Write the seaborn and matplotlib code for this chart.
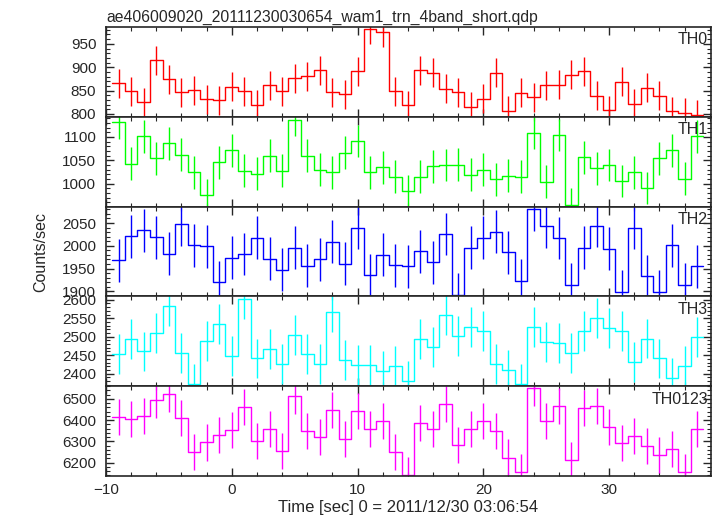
import numpy as np
import matplotlib
matplotlib.use('Agg')
import matplotlib.pyplot as plt
from matplotlib.ticker import MultipleLocator
import seaborn as sns

sns.set_style('ticks')
plt.rcParams['font.family'] = ['Liberation Sans', 'DejaVu Sans']

# bin centres [sec]
time = np.arange(-9, 38)

th0 = [866, 849, 825, 915, 874, 847, 851, 831, 829, 858, 849, 820, 861, 849, 876, 881,
       894, 847, 842, 891, 981, 975, 849, 819, 893, 888, 854, 847, 816, 833, 888, 807,
       845, 836, 861, 862, 884, 891, 839, 808, 869, 822, 856, 839, 806, 803, 798]
th1 = [1131, 1043, 1101, 1054, 1086, 1062, 1024, 975, 1046, 1071, 1028, 1021, 1060, 1028,
       1137, 1060, 1030, 1024, 1066, 1091, 1024, 1035, 1015, 984, 1015, 1037, 1040, 1041,
       1019, 1030, 1009, 1017, 1015, 1109, 1004, 1104, 955, 1056, 1033, 1040, 1006, 1024,
       991, 1054, 1071, 1011, 1101]
th2 = [1968, 2021, 2034, 2019, 1983, 2047, 2001, 1999, 1920, 1974, 1982, 2018, 1972, 1948,
       1996, 1956, 1970, 2009, 1961, 2040, 1935, 1980, 1957, 1955, 1988, 1964, 2026, 1893,
       1996, 2018, 2031, 1986, 1923, 2080, 2043, 2017, 1915, 1996, 2044, 1994, 1899, 2040,
       1933, 1899, 2001, 1915, 1955]
th3 = [2452, 2493, 2460, 2511, 2584, 2455, 2371, 2488, 2534, 2448, 2603, 2441, 2466, 2425,
       2504, 2454, 2427, 2566, 2438, 2423, 2423, 2407, 2422, 2381, 2493, 2472, 2558, 2501,
       2525, 2516, 2425, 2411, 2373, 2527, 2485, 2483, 2456, 2515, 2551, 2523, 2515, 2432,
       2495, 2441, 2387, 2422, 2500]
th0123 = [6414, 6405, 6419, 6497, 6522, 6410, 6249, 6295, 6330, 6352, 6462, 6303, 6360, 6254,
          6514, 6351, 6321, 6446, 6310, 6443, 6360, 6395, 6248, 6141, 6387, 6359, 6478, 6283,
          6357, 6398, 6351, 6224, 6157, 6552, 6394, 6465, 6214, 6457, 6467, 6367, 6292, 6324,
          6279, 6235, 6265, 6154, 6357]

names = ['TH0', 'TH1', 'TH2', 'TH3', 'TH0123']
series = [th0, th1, th2, th3, th0123]
errors = [31, 35, 47, 54, 85]
colors = ['#ff0000', '#00ff00', '#0000ff', '#00ffff', '#ff00ff']
ylims = [(794, 986), (951, 1143), (1889, 2086), (2366, 2609), (6137, 6560)]
major = [50, 50, 50, 50, 100]
minor = [10, 10, 10, 10, 20]

fig, axes = plt.subplots(5, 1, sharex=True, figsize=(7.17, 5.16), dpi=100)
fig.subplots_adjust(left=106/717, right=711/717, top=1-27/516, bottom=1-476/516, hspace=0)

for i, ax in enumerate(axes):
    vals = np.array(series[i], dtype=float)
    # full-width steps for each bin
    xs = np.column_stack([time - 0.5, time + 0.5]).ravel()
    ys = np.repeat(vals, 2)
    sns.lineplot(x=xs, y=ys, sort=False, estimator=None, color=colors[i], lw=1, ax=ax)
    ax.errorbar(time, vals, yerr=errors[i], fmt='none', ecolor=colors[i], elinewidth=1, capsize=0)
    ax.set_ylim(*ylims[i])
    ax.set_xlim(-10, 38.1)
    ax.yaxis.set_major_locator(MultipleLocator(major[i]))
    ax.yaxis.set_minor_locator(MultipleLocator(minor[i]))
    ax.xaxis.set_major_locator(MultipleLocator(10))
    ax.xaxis.set_minor_locator(MultipleLocator(2))
    ax.tick_params(which='both', direction='in', top=True, right=True, labelsize=11)
    ax.tick_params(axis='y', which='major', pad=7)
    ax.tick_params(axis='x', which='major', pad=5)
    ax.tick_params(which='major', length=6, width=1)
    ax.tick_params(which='minor', length=3, width=0.8)
    for s in ax.spines.values():
        s.set_linewidth(1.2)
    ax.text(0.995, 0.94, names[i], transform=ax.transAxes, ha='right', va='top', fontsize=11.5)
    ax.set_ylabel('')

axes[0].set_title('ae406009020_20111230030654_wam1_trn_4band_short.qdp', loc='left', fontsize=11.3, pad=4)
axes[-1].set_xlabel('Time [sec] 0 = 2011/12/30 03:06:54', fontsize=12, labelpad=2)
fig.text(0.057, (1 - 27/516 + 1 - 476/516) / 2, 'Counts/sec', rotation=90, ha='center', va='center', fontsize=11.5)

plt.savefig('out.png', dpi=100)
